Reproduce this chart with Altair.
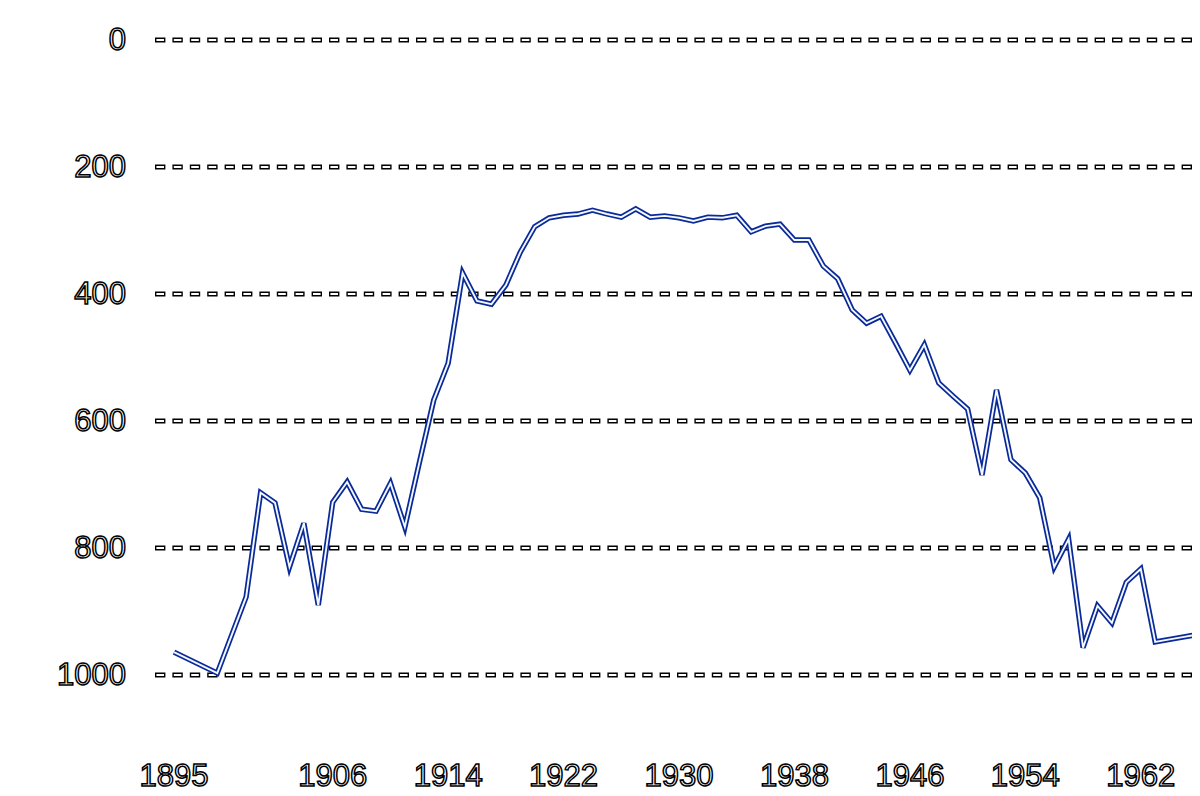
import altair as alt
import pandas as pd

# ---- data ----
years = [1895, 1898, 1900, 1901, 1902, 1903, 1904, 1905, 1906, 1907, 1908, 1909,
         1910, 1911, 1912, 1913, 1914, 1915, 1916, 1917, 1918, 1919, 1920, 1921,
         1922, 1923, 1924, 1925, 1926, 1927, 1928, 1929, 1930, 1931, 1932, 1933,
         1934, 1935, 1936, 1937, 1938, 1939, 1940, 1941, 1942, 1943, 1944, 1945,
         1946, 1947, 1948, 1949, 1950, 1951, 1952, 1953, 1954, 1955, 1956, 1957,
         1958, 1959, 1960, 1961, 1962, 1963, 1964, 1965, 1966, 1967]
values = [964, 997, 877, 713, 729, 830, 761, 890, 728, 696, 739, 742,
          698, 767, 666, 567, 509, 367, 411, 416, 386, 334, 294, 280,
          276, 274, 268, 274, 279, 266, 279, 277, 280, 285, 279, 280,
          276, 302, 293, 290, 315, 315, 356, 376, 425, 446, 435, 477,
          520, 480, 540, 561, 581, 685, 551, 661, 682, 721, 830, 786,
          957, 891, 918, 854, 833, 948, 944, 940, 936, 933]

x_ticks = [1895, 1906, 1914, 1922, 1930, 1938, 1946, 1954, 1962]
y_ticks = [0, 200, 400, 600, 800, 1000]

df = pd.DataFrame({"year": years, "value": values})
xt = pd.DataFrame({"year": x_ticks, "label": [str(t) for t in x_ticks]})
yt = pd.DataFrame({"value": y_ticks, "label": [str(t) for t in y_ticks]})

W, H = 1039, 699
xscale = alt.Scale(domain=[1893.545, 1965.55], nice=False, zero=False)
yscale = alt.Scale(domain=[0, 1100.8], reverse=True, nice=False, zero=False)

FONT = "Liberation Sans"

grid_outer = alt.Chart(yt).mark_rule(
    color="black", strokeWidth=4.8, strokeDash=[10.4, 7.0], strokeCap="butt"
).encode(y=alt.Y("value:Q", scale=yscale, axis=None))

grid_inner = alt.Chart(yt).mark_rule(
    color="white", strokeWidth=1.8, strokeDash=[7.6, 9.8], strokeDashOffset=16.0,
    strokeCap="butt"
).encode(y=alt.Y("value:Q", scale=yscale, axis=None))

line_outer = alt.Chart(df).mark_line(
    color="#0a2a98", strokeWidth=5.4, clip=True, strokeJoin="miter"
).encode(
    x=alt.X("year:Q", scale=xscale, axis=None),
    y=alt.Y("value:Q", scale=yscale, axis=None),
)

line_inner = alt.Chart(df).mark_line(
    color="#f4f8ff", strokeWidth=1.9, clip=True, strokeJoin="miter"
).encode(
    x=alt.X("year:Q", scale=xscale, axis=None),
    y=alt.Y("value:Q", scale=yscale, axis=None),
)

xlabels = alt.Chart(xt).mark_text(
    font=FONT, fontSize=31, fill="white", stroke="black", strokeWidth=1.5,
    align="center", baseline="alphabetic"
).encode(
    x=alt.X("year:Q", scale=xscale, axis=None),
    y=alt.value(746),
    text="label:N",
)

ylabels = alt.Chart(yt).mark_text(
    font=FONT, fontSize=31, fill="white", stroke="black", strokeWidth=1.5,
    align="right", baseline="middle", dy=1
).encode(
    y=alt.Y("value:Q", scale=yscale, axis=None),
    x=alt.value(-27),
    text="label:N",
)

chart = alt.layer(
    grid_outer, grid_inner, line_outer, line_inner, xlabels, ylabels
).properties(
    width=W, height=H,
    autosize=alt.AutoSizeParams(type="none"),
    padding={"left": 145, "top": 32, "right": 0, "bottom": 56},
    background="white",
).configure_view(stroke=None)

chart.save("out.html", embed_options={"renderer": "svg", "actions": False})
